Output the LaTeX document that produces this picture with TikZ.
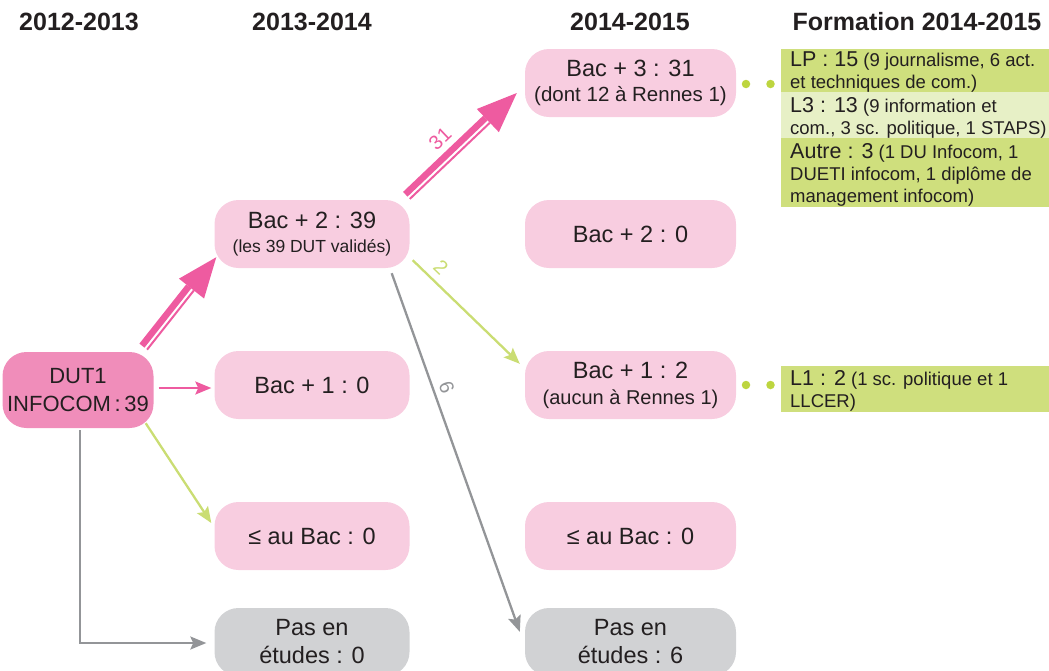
\documentclass[tikz,border=0pt]{standalone}
\usepackage{fontspec}
\setmainfont{Liberation Sans}
\usetikzlibrary{arrows.meta,calc}
\definecolor{txt}{HTML}{231F20}
\definecolor{pinkbox}{HTML}{F8CDE0}
\definecolor{pinkdark}{HTML}{F08DBA}
\definecolor{pinkarrow}{HTML}{EE5BA0}
\definecolor{greenline}{HTML}{CADD73}
\definecolor{greendot}{HTML}{BDD53F}
\definecolor{greenbox}{HTML}{CFDF7D}
\definecolor{greenlight}{HTML}{E7F0C6}
\definecolor{graybox}{HTML}{D1D2D4}
\definecolor{grayline}{HTML}{939598}
\newcommand\fs[2]{\fontsize{#1}{#2}\selectfont}
\newcommand\dblarr[2]{%
  \coordinate (hb) at ($(#2)!40pt!(#1)$);
  \fill[pinkarrow] (#2) -- ($(hb)!16pt!90:(#2)$) -- ($(hb)!16pt!-90:(#2)$) -- cycle;
  \draw[pinkarrow, line width=6.5] ($(#1)!3.5pt!90:(#2)$) -- ($(hb)!3.5pt!-90:(#1)$);
  \draw[pinkarrow, line width=2] ($(#1)!3pt!-90:(#2)$) -- ($(hb)!3pt!90:(#1)$);
}
\begin{document}
\begin{tikzpicture}[x=1pt,y=-1pt, font=\fs{23.5}{28}, text=txt,
  box/.style={rounded corners=24pt, minimum width=195pt, minimum height=68pt,
    align=center, inner sep=0pt, fill=pinkbox},
  wbox/.style={box, minimum width=211pt},
  gbox/.style={box, fill=graybox},
  hdr/.style={font=\bfseries\fs{25}{26}},
  band/.style={anchor=north west, minimum width=268pt, inner sep=0pt},
  btext/.style={anchor=west, align=left, inner sep=0pt, font=\fs{18.5}{22}},
  thinarr/.style={line width=2.3, -{Stealth[length=16pt,width=13pt,inset=3pt]}},
  dot/.style={circle, fill=greendot, minimum size=8.5pt, inner sep=0pt},
  lab/.style={sloped, font=\fs{20}{22}}
]
\useasboundingbox (0,0) rectangle (1049,670);

% headers
\node[hdr] (h1) at (79,22) {2012-2013};
\node[hdr] (h2) at (312,22) {2013-2014};
\node[hdr] (h3) at (630,22) {2014-2015};
\node[hdr] (h4) at (917,22) {Formation 2014-2015};

% column 1
\node[box, fill=pinkdark, minimum width=151pt, minimum height=76pt, font=\fs{22}{28}] (dut) at (78,390)
  {DUT1\\INFOCOM\,:\,39};

% column 2
\node[box] (b2) at (312,234) {Bac + 2 : 39\\[-4pt]{\fs{17.5}{19}(les 39 DUT validés)}};
\node[box] (b1) at (312,385) {Bac + 1 : 0};
\node[box] (bb) at (312,536) {≤ au Bac : 0};
\node[gbox] (pe1) at (312,642) {Pas en\\études : 0};

% column 3
\node[wbox] (b3) at (630.5,83) {Bac + 3 : 31\\[-3pt]{\fs{20.5}{22}(dont 12 à Rennes 1)}};
\node[wbox] (c2) at (630.5,234) {Bac + 2 : 0};
\node[wbox] (c1) at (630.5,385) {Bac + 1 : 2\\[-2pt]{\fs{20}{22}(aucun à Rennes 1)}};
\node[wbox] (cb) at (630.5,536) {≤ au Bac : 0};
\node[wbox, fill=graybox] (pe2) at (630.5,642) {Pas en\\études : 6};

% formation boxes
\node[band, fill=greenbox, minimum height=43pt] (lp) at (781,49) {};
\node[band, fill=greenlight, minimum height=46pt] (l3) at (781,92) {};
\node[band, fill=greenbox, minimum height=69pt] (au) at (781,138) {};
\node[band, fill=greenbox, minimum height=46pt] (l1) at (781,366) {};
\node[btext] (lpt) at ($(lp.west)+(9,1.5)$) {{\fs{21.5}{22}LP : 15} (9 journalisme, 6 act.\\et techniques de com.)};
\node[btext] (l3t) at ($(l3.west)+(9,2.5)$) {{\fs{21.5}{22}L3 : 13} (9 information et\\com., 3 sc. politique, 1 STAPS)};
\node[btext] (aut) at ($(au.west)+(9,2.5)$) {{\fs{21.5}{22}Autre : 3} (1 DU Infocom, 1\\DUETI infocom, 1 diplôme de\\management infocom)};
\node[btext] (l1t) at ($(l1.west)+(9,1.5)$) {{\fs{21.5}{22}L1 : 2} (1 sc. politique et 1\\LLCER)};

\node[dot] (d1) at (746,84) {};
\node[dot] (d2) at (770.5,84) {};
\node[dot] (d3) at (746,385) {};
\node[dot] (d4) at (770.5,385) {};

% double arrows
\coordinate (p1s) at ($(dut.north east)+(-9,-4)$);
\coordinate (p1t) at ($(b2.south west)+(2,-11)$);
\dblarr{p1s}{p1t}
\coordinate (p2s) at ($(b2.north east)+(-2,-3)$);
\coordinate (p2t) at ($(b3.west)+(-8,10)$);
\dblarr{p2s}{p2t}
\path (p2s) -- (p2t) node[lab, pos=0.42, above=9pt, text=pinkarrow] (l31) {31};

% other connectors
\draw[pinkarrow, thinarr] ($(dut.east)+(5,-2)$) -- ($(b1.west)+(-3,3)$);
\draw[greenline, thinarr] ($(dut.south east)+(-8,-5)$) -- ($(bb.west)+(-3,-13)$);
\draw[grayline, thinarr] ($(dut.south)+(2,2)$) |- ($(pe1.west)+(-8,1)$);
\draw[greenline, thinarr] ($(b2.south east)+(3,-8)$) -- ($(c1.north west)+(-5,13)$)
  node[lab, pos=0.17, above=3pt, text=greenline] (l2) {2};
\draw[grayline, thinarr] ($(b2.south east)+(-18,5)$) -- ($(pe2.north west)+(-5,24)$)
  node[lab, pos=0.33, above=2pt, text=grayline] (l6) {6};
\end{tikzpicture}
\end{document}
